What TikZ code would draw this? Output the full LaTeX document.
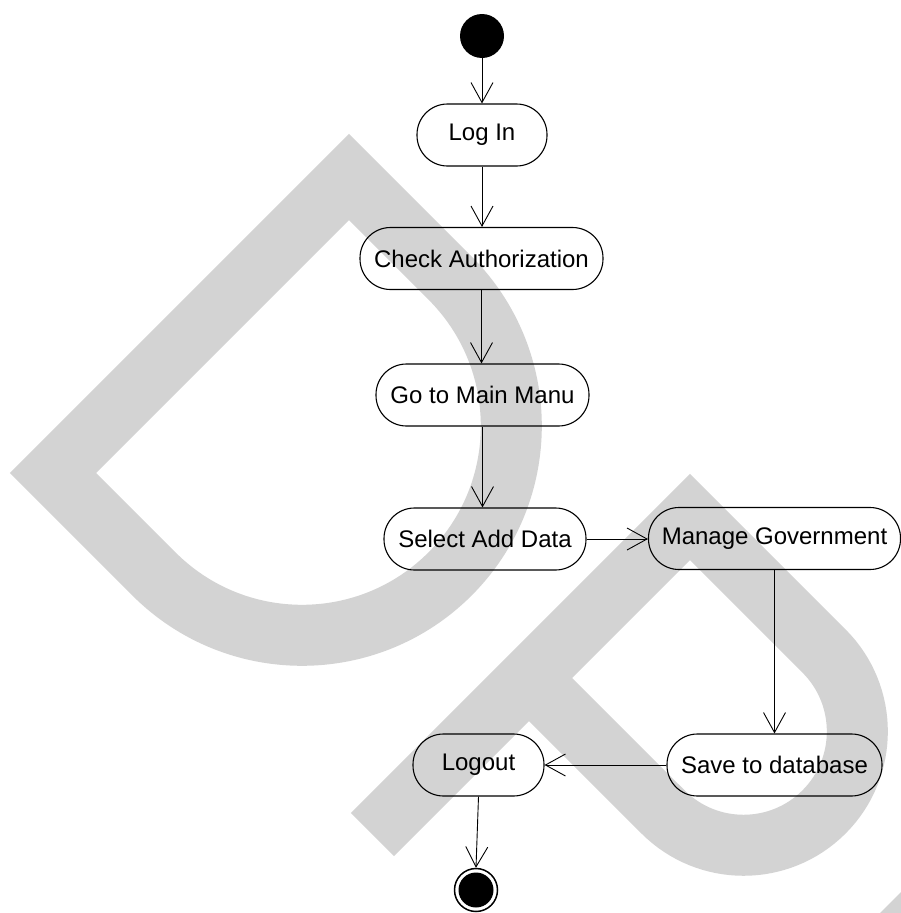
\documentclass[tikz,border=0pt]{standalone}
\usepackage{fontspec}
\setmainfont{Liberation Sans}
\usetikzlibrary{arrows.meta}
\definecolor{wmgray}{RGB}{211,211,211}
\begin{document}
\begin{tikzpicture}[x=1pt,y=1pt,
  activity/.style={rectangle, rounded corners=30.5pt, draw, line width=1.1pt,
    minimum height=62pt, inner sep=0pt, font=\fontsize{24}{28}\selectfont},
  flow/.style={line width=0.9pt,
    -{Straight Barb[length=20pt,width=22pt,line width=0.9pt]}},
  mark band/.style={draw=wmgray, line width=61pt, line join=miter, line cap=butt},
]
\clip (0,0) rectangle (901,-913);

% background "DP" mark
\draw[mark band] (53,-473) -- (349,-177) -- (450,-278)
  arc[start angle=45,end angle=-135,radius=209.3] -- cycle;
\draw[mark band] (372.5,-834.5) -- (690,-517) -- (824,-651)
  arc[start angle=45,end angle=-135,radius=113.8] -- (529,-678);
\fill[wmgray] (880,-913) -- (901,-892) -- (901,-913) -- cycle;

% activities
\node[circle, fill=black, minimum size=44pt, inner sep=0pt] (start) at (482,-36) {};
\node[activity, minimum width=130pt] (login) at (482,-135) {Log In};
\node[activity, minimum width=243pt] (check) at (481.5,-258.5) {Check Authorization};
\node[activity, minimum width=213pt] (gomain) at (482.5,-395) {Go to Main Manu};
\node[activity, minimum width=202pt] (select) at (485,-539) {Select Add Data};
\node[activity, minimum width=252pt] (manage) at (774.5,-538.5) {Manage Government};
\node[activity, minimum width=215pt] (save) at (774.5,-765) {Save to database};
\node[activity, minimum width=131pt] (logout) at (478.5,-765) {Logout};
\node[circle, draw, line width=1.5pt, fill=white, minimum size=43pt, inner sep=0pt] (finish) at (476,-890) {};
\fill (finish.center) circle (17.5);

% control flow
\draw[flow] (start) -- (login);
\draw[flow] (login.south) -- (login.south |- check.north);
\draw[flow] (check.south) -- (check.south |- gomain.north);
\draw[flow] (gomain.south) -- (gomain.south |- select.north);
\draw[flow] (select.east) -- (select.east -| manage.west);
\draw[flow] (manage.south) -- (manage.south |- save.north);
\draw[flow] (save.west) -- (save.west -| logout.east);
\draw[flow] (logout.south) -- (finish.north);
\end{tikzpicture}
\end{document}
